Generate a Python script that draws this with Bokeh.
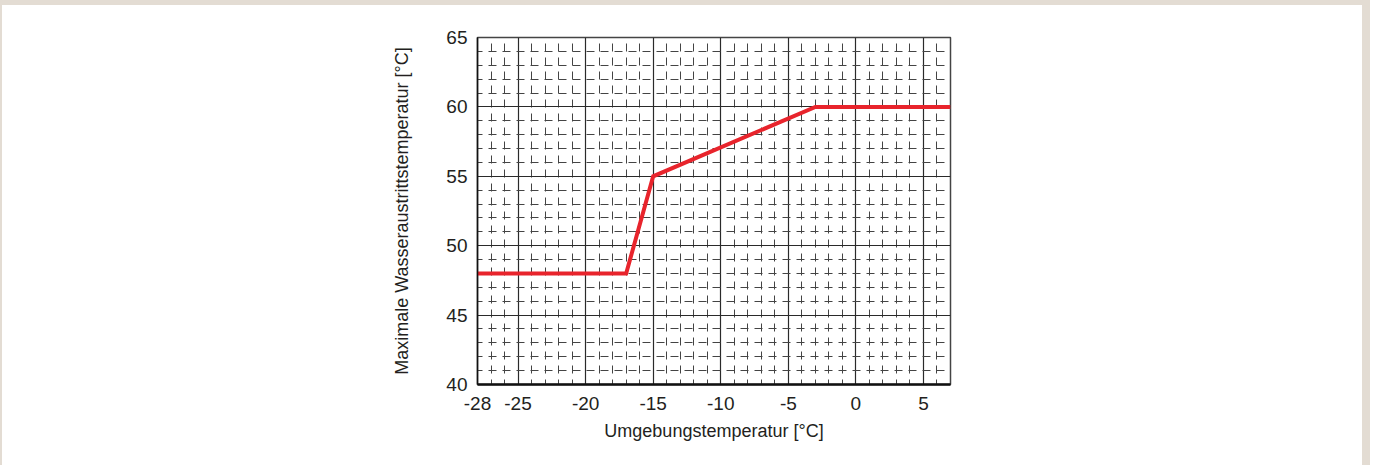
from bokeh.plotting import figure
from bokeh.models import FixedTicker
from bokeh.embed import file_html
from bokeh.resources import INLINE

# Data
ambient_temp = [-28, -17, -15, -3, 7]
max_water_temp = [48, 48, 55, 60, 60]
x_ticks = [-28, -25, -20, -15, -10, -5, 0, 5]
x_minor = list(range(-28, 8))
y_ticks = [40, 45, 50, 55, 60, 65]
y_minor = list(range(40, 66))

BEIGE = "#e3dcd3"
TEXT = "#231f20"
FONT = "Liberation Sans"

p = figure(width=1360, height=460, x_range=(-28, 7), y_range=(40, 65),
           output_backend="svg", toolbar_location=None,
           min_border_left=475, min_border_right=412,
           min_border_top=32, min_border_bottom=81)
shadow = ", ".join(f"{dx}px {dy}px 0 0 {BEIGE}" for dx, dy in
                   [(-8, 0), (8, 0), (0, -8), (-8, -8), (8, -8)])
p.styles = {"transform": "translate(2px, 5px)", "box-shadow": shadow}
p.background_fill_color = "white"
p.border_fill_color = "white"
p.outline_line_color = "#444444"
p.outline_line_width = 1.5

p.xaxis.ticker = FixedTicker(ticks=x_ticks, minor_ticks=x_minor)
p.yaxis.ticker = FixedTicker(ticks=y_ticks, minor_ticks=y_minor)
p.xaxis.major_label_overrides = {t: str(t) for t in x_ticks}
p.yaxis.major_label_overrides = {t: str(t) for t in y_ticks}

for ax in (p.xaxis, p.yaxis):
    ax.major_tick_line_color = None
    ax.minor_tick_line_color = None
    ax.major_tick_out = 0
    ax.major_tick_in = 0
    ax.minor_tick_out = 0
    ax.minor_tick_in = 0
    ax.major_label_text_font = FONT
    ax.major_label_text_font_size = "19px"
    ax.major_label_text_color = TEXT
    ax.axis_label_text_font = FONT
    ax.axis_label_text_font_size = "18px"
    ax.axis_label_text_font_style = "normal"
    ax.axis_label_text_color = TEXT
    ax.axis_line_color = "#111111"

p.xaxis.axis_line_width = 2.5
p.yaxis.axis_line_width = 1.5
p.xaxis.major_label_standoff = 12
p.yaxis.major_label_standoff = 10
p.xaxis.axis_label = "Umgebungstemperatur [°C]"
p.yaxis.axis_label = "Maximale Wasseraustrittstemperatur [°C]"
p.xaxis.axis_label_standoff = 8
p.yaxis.axis_label_standoff = 31

for g in (p.xgrid, p.ygrid):
    g.grid_line_color = "#2a2a2a"
    g.grid_line_width = 1.2
    g.grid_line_alpha = 1.0
    g.minor_grid_line_color = "#444444"
    g.minor_grid_line_width = 1
    g.minor_grid_line_dash = "8 6"
    g.minor_grid_line_dash_offset = 3
    g.level = "underlay"

p.line(ambient_temp, max_water_temp, line_color="#e8242c", line_width=4, line_join="miter")

open("out.html", "w").write(file_html(p, INLINE))
